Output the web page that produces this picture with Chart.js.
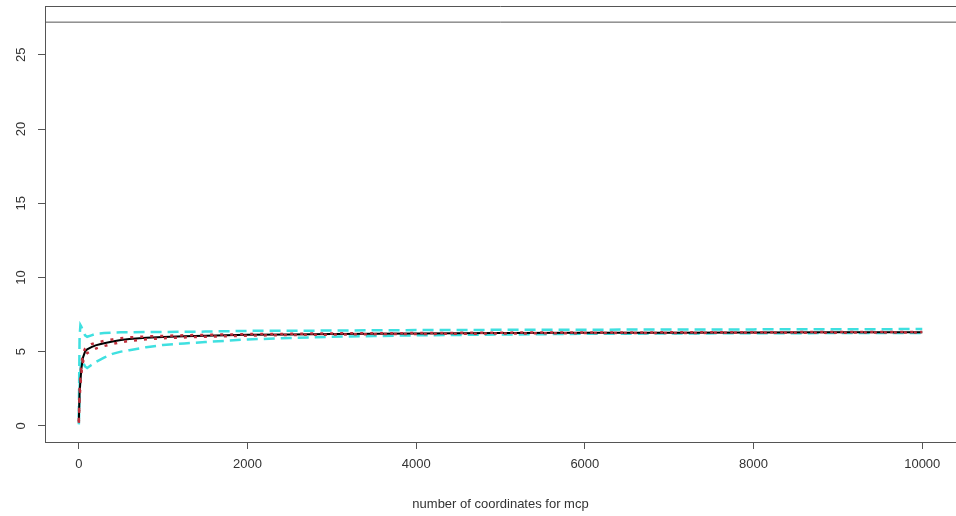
<!DOCTYPE html>
<html>
<head>
<meta charset="utf-8">
<script src="https://cdn.jsdelivr.net/npm/chart.js@4/dist/chart.umd.min.js"></script>
<style>
  html, body { margin: 0; padding: 0; background: #fff; }
  #cv { display: block; }
</style>
</head>
<body>
<canvas id="cv" width="956" height="516"></canvas>
<script>
// número de coordenadas (eixo x)
const coords = [1, 10, 20, 30, 50, 75, 100, 150, 200, 250, 300, 400, 500, 600, 800,
  1000, 1250, 1500, 2000, 2500, 3000, 3500, 4000, 5000, 6000, 7000, 8000, 9000, 10000];

// curva média (preta)
const meanArea = [0.27, 2.2, 3.0, 3.8, 4.6, 5.0, 5.15, 5.3, 5.42, 5.5, 5.56, 5.68, 5.78, 5.85, 5.93,
  5.98, 6.03, 6.07, 6.13, 6.16, 6.19, 6.21, 6.22, 6.25, 6.27, 6.28, 6.29, 6.3, 6.31];

// limites vermelhos pontilhados
const redUpper = [0.35, 2.6, 3.4, 4.1, 4.85, 5.2, 5.35, 5.5, 5.6, 5.66, 5.72, 5.82, 5.9, 5.96, 6.02,
  6.06, 6.1, 6.13, 6.18, 6.2, 6.23, 6.24, 6.25, 6.28, 6.29, 6.3, 6.31, 6.32, 6.33];
const redLower = [0.2, 1.9, 2.7, 3.5, 4.3, 4.75, 4.9, 5.05, 5.2, 5.3, 5.38, 5.52, 5.64, 5.72, 5.83,
  5.9, 5.96, 6.0, 6.08, 6.12, 6.15, 6.18, 6.19, 6.22, 6.25, 6.26, 6.27, 6.28, 6.29];

// limites ciano tracejados
const cyanUpper = [0.6, 6.0, 6.8, 6.7, 6.4, 6.1, 6.0, 6.1, 6.2, 6.22, 6.25, 6.28, 6.3, 6.31, 6.32,
  6.32, 6.34, 6.35, 6.4, 6.41, 6.42, 6.44, 6.45, 6.47, 6.48, 6.49, 6.5, 6.51, 6.52];
const cyanLower = [0.1, 2.5, 3.8, 4.4, 4.3, 4.0, 3.9, 4.1, 4.3, 4.45, 4.6, 4.85, 5.0, 5.1, 5.3,
  5.45, 5.55, 5.65, 5.82, 5.92, 6.0, 6.05, 6.1, 6.15, 6.2, 6.22, 6.24, 6.25, 6.26];

// linha horizontal de referência
const refLevel = 27.2;

// eixos
const xTicks = [0, 2000, 4000, 6000, 8000, 10000];
const yTicks = [0, 5, 10, 15, 20, 25];
const xRange = [-400, 10400];
const yRange = [-1.088, 28.288];

const pts = arr => arr.map((v, i) => ({ x: coords[i], y: v }));
const fontFam = 'Liberation Sans';

// borda superior da caixa + rótulos do eixo y girados (estilo R)
const boxAndLabels = {
  id: 'boxAndLabels',
  afterDraw(chart) {
    const { ctx, chartArea } = chart;
    const ys = chart.scales.y;
    ctx.save();
    ctx.strokeStyle = '#555';
    ctx.lineWidth = 1;
    ctx.beginPath();
    ctx.moveTo(chartArea.left, chartArea.top + 0.5);
    ctx.lineTo(chartArea.right, chartArea.top + 0.5);
    ctx.stroke();

    ctx.fillStyle = '#333';
    ctx.font = '13px "' + fontFam + '"';
    ctx.textAlign = 'center';
    ctx.textBaseline = 'middle';
    yTicks.forEach(v => {
      const py = ys.getPixelForValue(v);
      ctx.save();
      ctx.translate(chartArea.left - 24, py);
      ctx.rotate(-Math.PI / 2);
      ctx.fillText(String(v), 0, 0);
      ctx.restore();
    });
    ctx.restore();
  }
};

new Chart(document.getElementById('cv'), {
  type: 'line',
  data: {
    datasets: [
      {
        label: 'ref',
        data: [{ x: xRange[0], y: refLevel }, { x: xRange[1], y: refLevel }],
        borderColor: '#555', borderWidth: 1, pointRadius: 0, order: 3
      },
      {
        label: 'cyanUpper', data: pts(cyanUpper),
        borderColor: '#3fe0e0', borderWidth: 2.5, borderDash: [11, 6],
        pointRadius: 0, tension: 0, order: 2
      },
      {
        label: 'cyanLower', data: pts(cyanLower),
        borderColor: '#3fe0e0', borderWidth: 2.5, borderDash: [11, 6],
        pointRadius: 0, tension: 0, order: 2
      },
      {
        label: 'mean', data: pts(meanArea),
        borderColor: '#000', borderWidth: 2, pointRadius: 0, tension: 0, order: 1
      },
      {
        label: 'redUpper', data: pts(redUpper),
        borderColor: '#c0303c', borderWidth: 2.5, borderDash: [3, 7],
        pointRadius: 0, tension: 0, order: 0
      },
      {
        label: 'redLower', data: pts(redLower),
        borderColor: '#c0303c', borderWidth: 2.5, borderDash: [3, 7],
        pointRadius: 0, tension: 0, order: 0
      }
    ]
  },
  options: {
    responsive: false,
    animation: false,
    layout: { padding: { top: 6, right: 0, left: 0, bottom: 0 } },
    plugins: { legend: { display: false }, tooltip: { enabled: false } },
    scales: {
      x: {
        type: 'linear',
        min: xRange[0], max: xRange[1],
        afterBuildTicks: s => { s.ticks = xTicks.map(v => ({ value: v })); },
        afterFit: s => { s.height = 74; s.paddingLeft = 0; s.paddingRight = 0; },
        grid: { drawOnChartArea: false, tickLength: 7, tickColor: '#555' },
        border: { color: '#555', width: 1 },
        ticks: {
          color: '#333', font: { family: fontFam, size: 13 }, padding: 8, maxRotation: 0,
          callback: v => String(v)
        },
        title: {
          display: true, text: 'number of coordinates for mcp', color: '#333',
          font: { family: fontFam, size: 13 }, padding: { top: 10 }
        }
      },
      y: {
        type: 'linear',
        min: yRange[0], max: yRange[1],
        afterBuildTicks: s => { s.ticks = yTicks.map(v => ({ value: v })); },
        afterFit: s => { s.width = 45; s.paddingTop = 0; s.paddingBottom = 0; },
        grid: { drawOnChartArea: false, tickLength: 7, tickColor: '#555' },
        border: { color: '#555', width: 1 },
        ticks: { display: false }
      }
    }
  },
  plugins: [boxAndLabels]
});
</script>
</body>
</html>
